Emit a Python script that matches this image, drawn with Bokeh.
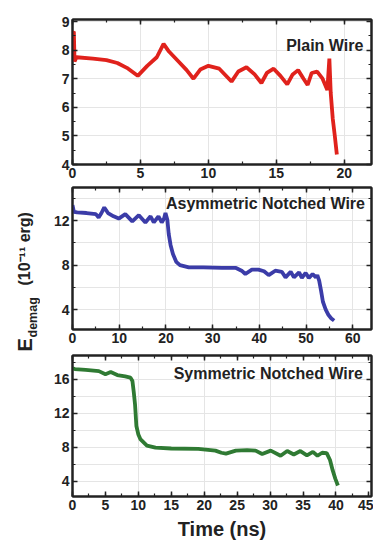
import numpy as np
from bokeh.plotting import figure
from bokeh.layouts import column, row
from bokeh.models import Range1d, LinearAxis, SingleIntervalTicker, Label, CustomJSTickFormatter
from bokeh.core.properties import value
from bokeh.embed import file_html
from bokeh.resources import INLINE

# ---------------- data ----------------
plain_t = [0.0, 0.1, 0.15, 0.3, 1.5, 2.5, 3.3, 4.0, 4.8, 5.5, 6.2, 6.7, 7.1, 7.8, 8.4, 8.9,
           9.4, 10.0, 10.8, 11.7, 12.2, 12.8, 13.4, 13.9, 14.3, 14.8, 15.3, 15.8, 16.2, 16.6,
           17.0, 17.3, 17.6, 18.0, 18.4, 18.75, 18.9, 19.0, 19.15, 19.3, 19.45]
plain_e = [8.6, 8.65, 7.6, 7.75, 7.7, 7.65, 7.55, 7.38, 7.1, 7.45, 7.75, 8.22, 7.95, 7.6, 7.3, 7.0,
           7.32, 7.45, 7.35, 6.9, 7.25, 7.4, 7.15, 6.85, 7.2, 7.35, 7.1, 6.8, 7.15, 7.3,
           7.0, 6.78, 7.2, 7.25, 7.0, 6.6, 7.7, 6.5, 5.6, 5.0, 4.35]

asym_t = [0.0, 0.3, 1.0, 3.0, 5.0, 5.6, 6.2, 6.8, 7.6, 8.8, 9.9, 11.3, 12.8, 14.2, 15.6, 16.7,
          17.4, 18.4, 19.1, 19.6, 19.9, 20.3, 20.6, 21.0, 21.5, 22.2, 23.0, 24.9, 28.0, 32.0,
          35.0, 36.2, 37.0, 38.4, 39.8, 41.0, 42.0, 43.4, 44.8, 45.6, 46.7, 47.4, 48.5, 49.1,
          49.9, 50.6, 51.4, 52.1, 52.4, 52.8, 53.2, 53.6, 54.2, 54.8, 55.4, 56.0]
asym_e = [13.4, 12.8, 12.75, 12.7, 12.6, 12.3, 12.7, 13.2, 12.7, 12.4, 12.2, 12.6, 11.95, 12.5, 11.85, 12.4,
          11.85, 12.4, 11.85, 12.2, 12.7, 12.1, 10.8, 9.8, 9.0, 8.3, 8.0, 7.8, 7.8, 7.75,
          7.75, 7.5, 7.2, 7.6, 7.6, 7.45, 7.1, 7.5, 7.4, 6.9, 7.4, 6.9, 7.35, 6.85,
          7.3, 6.85, 7.2, 6.9, 7.1, 6.6, 5.7, 4.7, 4.0, 3.5, 3.2, 3.0]

sym_t = [0.0, 0.35, 2.0, 4.0, 5.0, 5.8, 6.8, 8.0, 8.8, 9.1, 9.3, 9.5, 9.7, 10.0, 10.3, 11.3,
         12.6, 15.0, 19.1, 21.7, 22.6, 23.3, 24.8, 26.5, 27.8, 28.8, 30.1, 31.6, 32.6, 33.6,
         34.6, 35.6, 36.5, 37.2, 37.9, 38.6, 39.1, 39.5, 39.9, 40.3]
sym_e = [17.3, 17.2, 17.1, 16.96, 16.6, 16.85, 16.5, 16.35, 16.2, 15.8, 14.5, 13.0, 10.5, 9.5, 8.96, 8.2,
         7.95, 7.85, 7.8, 7.6, 7.35, 7.25, 7.6, 7.65, 7.6, 7.2, 7.6, 7.0, 7.55, 7.15,
         7.55, 7.05, 7.45, 7.0, 7.35, 7.3, 6.5, 5.3, 4.3, 3.5]

titles = ["Plain Wire", "Asymmetric Notched Wire", "Symmetric Notched Wire"]
colors = ["#e0221c", "#3b3ca8", "#2f7a33"]

FONT = "Liberation Sans"
INK = "#222222"


def make_panel(xr, yr, xstep, ystep, h, top, bottom, xlabel=None):
    p = figure(width=333, height=h, x_range=Range1d(*xr), y_range=Range1d(*yr),
               output_backend="svg", toolbar_location=None,
               min_border_left=32, min_border_right=2,
               min_border_top=top, min_border_bottom=bottom,
               x_axis_location=None, y_axis_location=None)
    p.outline_line_color = INK
    p.outline_line_width = 2
    p.background_fill_color = "white"
    p.border_fill_color = "white"
    xt = SingleIntervalTicker(interval=xstep, num_minor_ticks=2)
    yt = SingleIntervalTicker(interval=ystep, num_minor_ticks=2)
    for side, tick, show in [("below", xt, True), ("above", xt, False),
                             ("left", yt, True), ("right", yt, False)]:
        ax = LinearAxis(ticker=tick)
        ax.major_tick_in = 5
        ax.major_tick_out = 0
        ax.minor_tick_in = 3
        ax.minor_tick_out = 0
        ax.axis_line_width = 2
        ax.axis_line_color = INK
        ax.major_tick_line_color = INK
        ax.minor_tick_line_color = INK
        ax.major_tick_line_width = 1.5
        ax.minor_tick_line_width = 1.2
        if show:
            ax.major_label_text_font = FONT
            ax.major_label_text_font_style = "bold"
            ax.major_label_text_font_size = "14px"
            ax.major_label_text_color = INK
            ax.major_label_standoff = 3
            if side == "below" and xlabel:
                ax.axis_label = xlabel
                ax.axis_label_text_font = FONT
                ax.axis_label_text_font_style = "bold"
                ax.axis_label_text_font_size = "20px"
                ax.axis_label_text_color = INK
                ax.axis_label_standoff = 5
        else:
            ax.formatter = CustomJSTickFormatter(code="return ''")
            ax.major_label_text_font_size = "0px"
            ax.major_label_standoff = 0
        p.add_layout(ax, side)
    return p


def title_label(x, y, text):
    return Label(x=x, y=y, text=text, text_align="right", text_baseline="middle",
                 text_font=FONT, text_font_style="bold", text_font_size="16px",
                 text_color=INK)


p1 = make_panel((0, 22), (4, 9.07), 5, 1, 185, 19, 21)
p1.line(plain_t, plain_e, line_color=colors[0], line_width=3.8)
p1.add_layout(title_label(21.4, 8.17, titles[0]))

p2 = make_panel((0, 64), (2.2, 15), 10, 4, 165, 2, 21)
p2.line(asym_t, asym_e, line_color=colors[1], line_width=3.8)
p2.add_layout(title_label(62.6, 13.6, titles[1]))

p3 = make_panel((0, 45.4), (2.2, 18.8), 5, 4, 194, 5, 48, xlabel="Time (ns)")
p3.line(sym_t, sym_e, line_color=colors[2], line_width=3.8)
p3.add_layout(title_label(44.1, 16.7, titles[2]))

# y-axis title drawn in a narrow side canvas
H = 544
lab = figure(width=40, height=H, x_range=Range1d(0, 40), y_range=Range1d(0, H),
             output_backend="svg", toolbar_location=None,
             min_border=0, x_axis_location=None, y_axis_location=None)
lab.outline_line_color = None
lab.xgrid.visible = False
lab.ygrid.visible = False
common = dict(angle=np.pi / 2, text_align="left", text_baseline="middle",
              text_font=value(FONT), text_font_style="bold", text_color=INK)
lab.text(x=[24], y=[H - 351], text=["E"], text_font_size="20px", **common)
lab.text(x=[32.5], y=[H - 337], text=["demag"], text_font_size="12.5px", **common)
lab.text(x=[24], y=[H - 285], text=["(10⁻¹¹ erg)"], text_font_size="16px", **common)

layout = row(lab, column(p1, p2, p3))

with open("out.html", "w") as f:
    f.write(file_html(layout, INLINE))
